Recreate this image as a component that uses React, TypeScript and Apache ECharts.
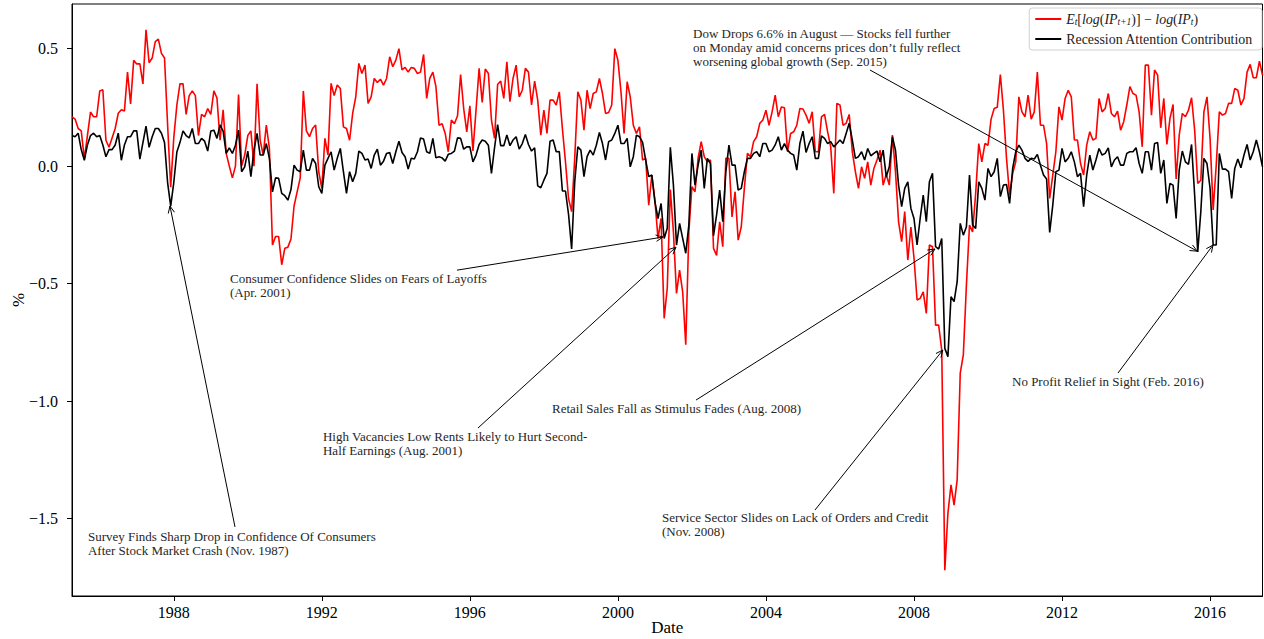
import React, { useEffect, useRef } from "react";
import * as echarts from "echarts";

// Monthly observations, first one is April 1985
const START_YEAR = 1985.25;
const yearTicks = [1988, 1992, 1996, 2000, 2004, 2008, 2012, 2016];
const pctTicks = [-1.5, -1.0, -0.5, 0.0, 0.5];

// E_t[log(IP_{t+1})] - log(IP_t), in %
const expectedGrowth = [
  // 1985-04 .. 1988-06
  0.21, 0.20, 0.16, 0.15, 0.03, 0.13, 0.23, 0.21, 0.21, 0.32, 0.325, 0.11, 0.08, 0.12, 0.16, 0.225, 0.24, 0.235, 0.40, 0.265,
  0.45, 0.435, 0.435, 0.35, 0.58, 0.44, 0.46, 0.53, 0.54, 0.48, 0.46, 0.175, -0.09, 0.12, 0.26, 0.35, 0.35, 0.22, 0.30,
  // 1988-07 .. 1991-09
  0.32, 0.30, 0.13, 0.22, 0.21, 0.245, 0.22, 0.32, 0.29, 0.11, 0.24, 0.054, 0.0, -0.05, 0.0, 0.305, 0.0, 0.047, 0.13, 0.15,
  0.0, 0.35, 0.11, 0.047, 0.175, 0.075, -0.336, -0.30, -0.30, -0.42, -0.35, -0.345, -0.31, -0.17, -0.11, -0.05, 0.32, 0.15, 0.125,
  // 1991-10 .. 1994-12
  0.16, 0.175, -0.024, -0.095, 0.118, 0.047, 0.352, 0.30, 0.345, 0.33, 0.167, 0.16, 0.11, 0.224, 0.295, 0.437, 0.394, 0.43, 0.267, 0.295,
  0.373, 0.356, 0.37, 0.345, 0.373, 0.465, 0.423, 0.451, 0.50, 0.41, 0.42, 0.40, 0.42, 0.416, 0.394, 0.40, 0.475, 0.288, 0.373,
  // 1995-01 .. 1998-03
  0.40, 0.338, 0.174, 0.18, 0.139, 0.061, 0.196, 0.18, 0.214, 0.39, 0.245, 0.146, 0.257, 0.064, 0.238, 0.416, 0.271, 0.413, 0.394, 0.196,
  0.118, 0.347, 0.362, 0.288, 0.444, 0.274, 0.373, 0.43, 0.295, 0.323, 0.416, 0.40, 0.26, 0.362, 0.281, 0.132, 0.238, 0.139, 0.281,
  // 1998-04 .. 2001-06
  0.281, 0.26, 0.316, 0.16, 0.018, -0.138, -0.194, 0.033, 0.316, 0.281, 0.153, 0.323, 0.245, 0.309, 0.316, 0.373, 0.309, 0.224, 0.228, 0.26,
  0.50, 0.451, 0.316, 0.139, 0.359, 0.295, 0.174, 0.139, 0.167, 0.026, 0.033, -0.166, -0.038, -0.145, -0.308, -0.223, -0.648, -0.52, -0.10,
  // 2001-07 .. 2004-08
  -0.28, -0.542, -0.443, -0.535, -0.76, -0.28, -0.088, -0.109, 0.033, 0.104, 0.04, 0.018, 0.026, -0.35, -0.38, -0.237, -0.343, 0.033, 0.033,
  -0.216, -0.109, -0.315, -0.258, -0.095, 0.054, 0.04, 0.104, 0.125, 0.182, 0.196, 0.238, 0.174, 0.231, 0.302, 0.21, 0.252, 0.248, 0.061,
  // 2004-09 .. 2007-11
  0.139, 0.146, 0.174, 0.245, 0.243, 0.217, 0.182, 0.231, 0.061, 0.061, 0.21, 0.22, 0.146, 0.082, -0.116, 0.267, 0.26, 0.174, 0.182, 0.22,
  0.061, -0.024, -0.095, -0.003, -0.052, 0.018, -0.081, -0.01, 0.026, 0.068, -0.081, -0.035, -0.081, 0.132, -0.024, -0.237, -0.322, -0.194, -0.40,
  // 2007-12 .. 2011-02
  -0.26, -0.39, -0.57, -0.563, -0.535, -0.627, -0.336, -0.343, -0.677, -0.677, -0.783, -1.72, -1.478, -1.357, -1.443, -1.336, -0.881, -0.804, -0.506, -0.251,
  -0.28, -0.116, 0.096, 0.018, 0.096, 0.089, 0.20, 0.245, 0.25, 0.39, 0.238, 0.033, -0.123, -0.031, 0.018, 0.295, 0.231, 0.21, 0.302,
  // 2011-03 .. 2014-05
  0.20, 0.231, 0.40, 0.174, 0.174, 0.096, -0.138, -0.038, 0.061, 0.252, 0.196, 0.288, 0.323, 0.295, 0.111, 0.111, 0.011, -0.038, 0.089, 0.146,
  0.111, 0.118, 0.288, 0.231, 0.245, 0.309, 0.224, 0.21, 0.234, 0.153, 0.189, 0.26, 0.338, 0.309, 0.302, 0.231, 0.082, 0.43, 0.43,
  // 2014-06 .. 2017-06
  0.217, 0.409, 0.387, 0.163, 0.288, 0.092, 0.203, 0.262, -0.055, 0.132, 0.224, 0.21, 0.238, 0.291, 0.153, -0.074, -0.06, 0.231, 0.295, 0.118,
  -0.187, 0.004, 0.231, 0.217, 0.224, 0.267, 0.267, 0.33, 0.323, 0.26, 0.288, 0.40, 0.433, 0.376, 0.376, 0.447, 0.387,
];

// Recession attention contribution, in %
const recessionAttention = [
  // 1985-04 .. 1988-06
  0.13, 0.125, 0.14, 0.07, 0.025, 0.09, 0.13, 0.14, 0.125, 0.13, 0.09, 0.04, 0.07, 0.07, 0.09, 0.14, 0.025, 0.09, 0.125, 0.125,
  0.15, 0.15, 0.03, 0.10, 0.17, 0.08, 0.125, 0.16, 0.16, 0.14, 0.10, -0.07, -0.17, -0.07, 0.06, 0.10, 0.15, 0.13, 0.12,
  // 1988-07 .. 1991-09
  0.16, 0.096, 0.096, 0.118, 0.106, 0.064, 0.149, 0.153, 0.118, 0.175, 0.149, 0.054, 0.078, 0.054, 0.089, 0.153, -0.024, -0.003, 0.064, -0.045,
  0.068, 0.139, 0.047, 0.047, 0.096, 0.033, -0.11, -0.05, -0.052, -0.116, -0.126, -0.145, -0.10, 0.004, -0.017, -0.024, 0.068, -0.017, -0.017,
  // 1991-10 .. 1994-12
  0.033, 0.011, -0.088, -0.116, 0.004, 0.033, 0.061, -0.017, 0.033, 0.075, -0.024, -0.116, -0.024, -0.067, -0.031, 0.064, 0.054, 0.026, 0.03, -0.01,
  0.047, 0.072, 0.004, 0.021, 0.054, 0.058, 0.011, 0.061, 0.106, 0.058, 0.04, -0.013, 0.033, 0.03, 0.061, 0.12, 0.115, 0.061, 0.054,
  // 1995-01 .. 1998-03
  0.118, 0.035, 0.04, 0.035, 0.021, 0.05, 0.054, 0.064, 0.12, 0.118, 0.072, 0.082, 0.082, 0.018, 0.047, 0.092, 0.111, 0.106, 0.089, -0.031,
  0.078, 0.177, 0.087, 0.087, 0.132, 0.087, 0.111, 0.125, 0.072, 0.096, 0.135, 0.092, 0.064, 0.078, -0.084, -0.092, -0.06, -0.031, 0.106,
  // 1998-04 .. 2001-06
  0.111, 0.061, 0.062, -0.106, -0.106, -0.206, -0.353, -0.067, 0.082, 0.068, -0.045, 0.04, 0.068, 0.047, 0.089, 0.143, 0.096, 0.026, 0.104, 0.111,
  0.139, 0.174, 0.096, 0.096, 0.118, -0.003, 0.04, 0.132, 0.125, 0.101, 0.026, -0.045, -0.038, -0.152, -0.223, -0.159, -0.308, -0.265, 0.08,
  // 2001-07 .. 2004-08
  -0.081, -0.336, -0.244, -0.308, -0.371, -0.251, 0.054, -0.081, 0.004, 0.068, -0.095, 0.033, 0.011, -0.296, -0.208, -0.102, -0.237, -0.024, 0.089,
  0.004, 0.004, -0.102, -0.095, -0.024, 0.033, 0.033, 0.054, 0.061, 0.04, 0.096, 0.096, 0.061, 0.068, 0.09, 0.125, 0.068, 0.096, 0.068,
  // 2004-09 .. 2007-11
  0.054, 0.047, -0.017, 0.096, 0.149, 0.058, 0.096, 0.125, 0.033, 0.033, 0.129, 0.118, 0.096, 0.104, 0.082, 0.096, 0.111, 0.096, 0.139, 0.182,
  0.111, 0.033, 0.04, 0.061, 0.026, 0.075, 0.044, 0.054, 0.064, 0.018, 0.068, -0.045, -0.003, 0.125, 0.068, -0.081, -0.173, -0.095, -0.067,
  // 2007-12 .. 2011-02
  -0.18, -0.223, -0.336, -0.223, -0.123, -0.237, -0.067, -0.031, -0.343, -0.353, -0.308, -0.776, -0.811, -0.556, -0.577, -0.492, -0.244, -0.294, -0.258, -0.038,
  -0.251, -0.265, -0.067, -0.095, -0.145, -0.01, -0.045, -0.024, 0.033, -0.13, -0.081, -0.078, -0.159, -0.01, 0.061, 0.089, 0.068, 0.033, 0.02,
  // 2011-03 .. 2014-05
  0.033, 0.03, 0.05, 0.004, -0.038, -0.055, -0.282, -0.166, -0.024, -0.017, 0.075, 0.018, 0.033, 0.061, 0.018, -0.045, -0.031, -0.173, -0.038, 0.047,
  -0.017, 0.026, 0.075, 0.047, 0.054, 0.078, -0.003, 0.026, 0.04, 0.004, 0.004, 0.054, 0.061, 0.061, 0.078, 0.011, -0.031, 0.061, 0.061,
  // 2014-06 .. 2017-06
  -0.017, 0.096, 0.1, -0.031, 0.026, -0.159, -0.074, -0.081, -0.223, -0.017, 0.064, 0.018, 0.007, 0.092, -0.123, -0.365, -0.194, 0.033, 0.011, -0.095,
  -0.336, -0.336, 0.054, -0.013, -0.013, -0.024, -0.138, -0.01, 0.03, -0.007, 0.047, 0.092, 0.026, 0.061, 0.111, 0.061, -0.003,
];

// Headline annotations: text block top-left, arrow start and arrow tip, in data units (year, %)
const annotations = [
  {
    text: "Survey Finds Sharp Drop in Confidence Of Consumers\nAfter Stock Market Crash (Nov. 1987)",
    textAt: [1985.68, -1.545], from: [1989.654, -1.536], to: [1987.897, -0.17],
  },
  {
    text: "Consumer Confidence Slides on Fears of Layoffs\n(Apr. 2001)",
    textAt: [1989.518, -0.447], from: [1995.652, -0.443], to: [2001.218, -0.302],
  },
  {
    text: "High Vacancies Low Rents Likely to Hurt Second-\nHalf Earnings (Aug. 2001)",
    textAt: [1992.031, -1.123], from: [1996.219, -1.115], to: [2001.57, -0.345],
  },
  {
    text: "Retail Sales Fall as Stimulus Fades (Aug. 2008)",
    textAt: [1998.219, -1.004], from: [2002.11, -0.996], to: [2008.567, -0.353],
  },
  {
    text: "Service Sector Slides on Lack of Orders and Credit\n(Nov. 2008)",
    textAt: [2001.191, -1.468], from: [2005.325, -1.464], to: [2008.78, -0.783],
  },
  {
    text: "Dow Drops 6.6% in August \u2014 Stocks fell further\non Monday amid concerns prices don\u2019t fully reflect\nworsening global growth (Sep. 2015)",
    textAt: [2002.029, 0.596], from: [2006.811, 0.409], to: [2015.65, -0.362],
  },
  {
    text: "No Profit Relief in Sight (Feb. 2016)",
    textAt: [2010.648, -0.889], from: [2013.512, -0.881], to: [2016.08, -0.336],
  },
];

const SERIF = "Liberation Serif";

export default function App() {
  const ref = useRef<HTMLDivElement>(null);

  useEffect(() => {
    if (!ref.current) return;
    const chart = echarts.init(ref.current, undefined, { renderer: "svg" });
    const n = expectedGrowth.length;
    const xMax = START_YEAR + (n - 1) / 12;
    const toPairs = (arr: number[]) => arr.map((v, i) => [START_YEAR + i / 12, v]);

    const fmtPct = (v: number) => (v < 0 ? "\u2212" : "") + Math.abs(v).toFixed(1);

    const option: any = {
      animation: false,
      textStyle: { fontFamily: SERIF },
      grid: {
        left: 72, right: 1.5, top: 4, bottom: 43,
        containLabel: false,
        outerBoundsMode: "none",
        show: true, borderColor: "#000", borderWidth: 1, backgroundColor: "transparent",
      },
      legend: {
        data: [
          { name: "expected", icon: "rect" },
          { name: "attention", icon: "rect" },
        ],
        orient: "vertical",
        right: 2,
        top: 8,
        itemWidth: 26,
        itemHeight: 2,
        itemGap: 5,
        itemTextGap: 8,
        padding: [4, 9, 4, 6],
        backgroundColor: "rgba(255,255,255,0.85)",
        borderColor: "#d0d0d0",
        borderWidth: 1,
        borderRadius: 3,
        formatter: (name: string) =>
          name === "expected"
            ? "{i|E}{s|t}{r|[}{i|log}{r|(}{i|IP}{s|t+1}{r|)] \u2212 }{i|log}{r|(}{i|IP}{s|t}{r|)}"
            : "{r|Recession Attention Contribution}",
        textStyle: {
          color: "#222",
          fontFamily: SERIF,
          fontSize: 13.9,
          rich: {
            r: { fontFamily: SERIF, fontSize: 13.9, lineHeight: 16, color: "#222" },
            i: { fontFamily: SERIF, fontSize: 13.9, fontStyle: "italic", lineHeight: 16, color: "#222" },
            s: { fontFamily: SERIF, fontSize: 9.5, fontStyle: "italic", lineHeight: 10, verticalAlign: "bottom", color: "#222" },
          },
        },
      },
      xAxis: {
        type: "value",
        min: START_YEAR,
        max: xMax,
        name: "Date",
        nameLocation: "middle",
        nameGap: 23,
        nameMoveOverlap: false,
        nameTextStyle: { fontFamily: SERIF, fontSize: 17, color: "#000" },
        axisLine: { show: true, onZero: false, lineStyle: { color: "#000", width: 1 } },
        axisTick: { show: true, customValues: yearTicks, length: 5, lineStyle: { color: "#000", width: 1 } },
        axisLabel: {
          customValues: yearTicks,
          formatter: (v: number) => String(Math.round(v)),
          fontFamily: SERIF, fontSize: 16, color: "#000", margin: 8,
        },
        splitLine: { show: false },
      },
      yAxis: {
        type: "value",
        min: -1.83,
        max: 0.69,
        name: "%",
        nameLocation: "middle",
        nameRotate: 90,
        nameGap: 45,
        nameMoveOverlap: false,
        nameTextStyle: { fontFamily: SERIF, fontSize: 17, color: "#000" },
        axisLine: { show: true, onZero: false, lineStyle: { color: "#000", width: 1 } },
        axisTick: { show: true, customValues: pctTicks, length: 5, lineStyle: { color: "#000", width: 1 } },
        axisLabel: {
          customValues: pctTicks,
          formatter: (v: number) => fmtPct(v),
          fontFamily: SERIF, fontSize: 16, color: "#000", margin: 14,
        },
        splitLine: { show: false },
      },
      series: [
        {
          name: "expected",
          type: "line",
          data: toPairs(expectedGrowth),
          showSymbol: false,
          symbol: "none",
          color: "#ff0000",
          lineStyle: { color: "#ff0000", width: 1.6 },
          z: 2,
        },
        {
          name: "attention",
          type: "line",
          data: toPairs(recessionAttention),
          showSymbol: false,
          symbol: "none",
          color: "#000000",
          lineStyle: { color: "#000000", width: 1.6 },
          z: 3,
        },
        {
          name: "annotations",
          type: "custom",
          silent: true,
          clip: false,
          z: 10,
          encode: { x: 0, y: 1 },
          data: annotations.map((a) => [a.to[0], a.to[1]]),
          renderItem: (params: any, api: any) => {
            const a = annotations[params.dataIndex];
            const t = api.coord(a.textAt);
            const p1 = api.coord(a.from);
            const p2 = api.coord(a.to);
            const ang = Math.atan2(p2[1] - p1[1], p2[0] - p1[0]);
            const L = 7;
            const W = 3.2;
            const bx = p2[0] - L * Math.cos(ang);
            const by = p2[1] - L * Math.sin(ang);
            const nx = -Math.sin(ang);
            const ny = Math.cos(ang);
            return {
              type: "group",
              children: [
                {
                  type: "line",
                  shape: { x1: p1[0], y1: p1[1], x2: p2[0], y2: p2[1] },
                  style: { stroke: "#000", lineWidth: 1 },
                },
                {
                  type: "polyline",
                  shape: { points: [[bx + nx * W, by + ny * W], [p2[0], p2[1]], [bx - nx * W, by - ny * W]] },
                  style: { stroke: "#000", lineWidth: 1, fill: "none" },
                },
                {
                  type: "text",
                  x: t[0],
                  y: t[1],
                  style: {
                    text: a.text,
                    fontFamily: SERIF,
                    fontSize: 13,
                    lineHeight: 14,
                    fill: "#262626",
                    align: "left",
                    verticalAlign: "top",
                  },
                },
              ],
            };
          },
        },
      ],
    };

    chart.setOption(option);
    return () => chart.dispose();
  }, []);

  return (
    <div
      ref={ref}
      style={{ position: "fixed", left: 0, top: 0, width: 1264, height: 639, background: "#fff" }}
    />
  );
}
